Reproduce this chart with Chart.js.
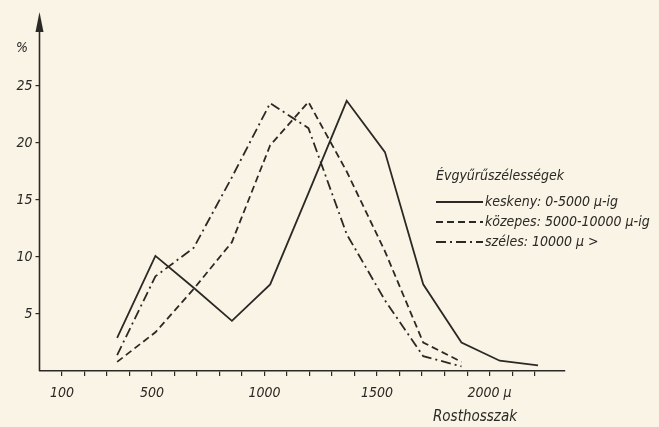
<!DOCTYPE html>
<html>
<head>
<meta charset="utf-8">
<script src="https://cdn.jsdelivr.net/npm/chart.js@4/dist/chart.umd.min.js"></script>
<style>
  html, body { margin: 0; padding: 0; background: #f9f4e5; }
  #wrap { width: 659px; height: 427px; }
</style>
</head>
<body>
<div id="wrap"><canvas id="chart"></canvas></div>
<script>
// Rosthossz osztályok (μ)
const lengths = [345, 515, 685, 855, 1025, 1195, 1365, 1535, 1705, 1875, 2045, 2215];

// gyakoriság %
const keskeny = [2.9, 10.1, 7.3, 4.4, 7.6, 15.6, 23.7, 19.2, 7.6, 2.5, 0.9, 0.5];
const kozepes = [0.8, 3.4, 7.2, 11.3, 19.8, 23.6, 17.5, 10.5, 2.5, 0.8, null, null];
const szeles  = [1.4, 8.3, 10.8, 17.0, 23.5, 21.3, 12.0, 6.2, 1.3, 0.4, null, null];

const seriesNames = ['keskeny: 0-5000 μ-ig', 'közepes: 5000-10000 μ-ig', 'széles: 10000 μ >'];
const legendTitle = 'Évgyűrűszélességek';
const xTitle = 'Rosthosszak';
const xLabeled = [100, 500, 1000, 1500, 2000];

const ink = '#2b2926';
const font = '"Liberation Sans Narrow", "DejaVu Sans Condensed", "DejaVu Sans", sans-serif';
const dashes = [[], [7, 4], [10, 4, 2, 4]];

function pts(arr) {
  return lengths.map((x, i) => ({ x: x, y: arr[i] })).filter(p => p.y !== null);
}

// tengely nyíl, %, tengelycím, jelmagyarázat
const decor = {
  id: 'decor',
  afterDraw(chart) {
    const c = chart.ctx;
    const xs = chart.scales.x, ys = chart.scales.y;
    const ax = xs.left;
    c.save();
    c.strokeStyle = ink;
    c.fillStyle = ink;
    // nyílhegy
    c.beginPath();
    c.moveTo(ax, 12);
    c.lineTo(ax - 4, 32);
    c.lineTo(ax + 4, 32);
    c.closePath();
    c.fill();
    c.lineWidth = 1.6;
    c.beginPath();
    c.moveTo(ax, ys.bottom);
    c.lineTo(ax, 20);
    c.stroke();

    c.font = 'italic 14px ' + font;
    c.textAlign = 'center';
    c.textBaseline = 'middle';
    c.fillText('%', 22, ys.getPixelForValue(28.3));

    c.font = 'italic 15px ' + font;
    c.fillText(xTitle, xs.getPixelForValue(1935), 417);

    // jelmagyarázat
    c.textAlign = 'left';
    c.font = 'italic 14px ' + font;
    c.fillText(legendTitle, 436, 176);
    const rows = [202, 222, 242];
    rows.forEach((y, i) => {
      c.setLineDash(dashes[i]);
      c.lineWidth = 1.8;
      c.beginPath();
      c.moveTo(436, y);
      c.lineTo(483, y);
      c.stroke();
      c.setLineDash([]);
      c.fillText(seriesNames[i], 485, y);
    });
    c.restore();
  }
};

const sets = [keskeny, kozepes, szeles].map((arr, i) => ({
  label: seriesNames[i],
  data: pts(arr),
  borderColor: ink,
  borderWidth: 1.8,
  borderDash: dashes[i],
  pointRadius: 0,
  tension: 0,
  fill: false
}));

new Chart(document.getElementById('chart'), {
  type: 'line',
  data: { datasets: sets },
  options: {
    responsive: true,
    maintainAspectRatio: false,
    animation: false,
    layout: { padding: { top: 17.6, right: 94, bottom: 0, left: 0 } },
    plugins: { legend: { display: false }, tooltip: { enabled: false } },
    scales: {
      x: {
        type: 'linear',
        min: 0,
        max: 2335,
        afterFit: s => { s.height = 56; },
        afterBuildTicks: s => {
          const t = [];
          for (let v = 100; v <= 2200; v += 100) t.push({ value: v });
          s.ticks = t;
        },
        border: { color: ink, width: 1.6 },
        grid: { drawOnChartArea: false, color: ink, tickLength: 5, lineWidth: 1.2 },
        ticks: {
          autoSkip: false,
          maxRotation: 0,
          padding: 9,
          color: ink,
          font: { family: font, style: 'italic', size: 14 },
          callback: v => xLabeled.includes(v) ? (v === 2000 ? '2000 μ' : String(v)) : ''
        }
      },
      y: {
        min: 0,
        max: 31,
        afterFit: s => { s.width = 39.5; },
        afterBuildTicks: s => { s.ticks = [5, 10, 15, 20, 25].map(v => ({ value: v })); },
        border: { display: false },
        grid: { drawOnChartArea: false, color: ink, tickLength: 4, lineWidth: 1.2 },
        ticks: {
          padding: 3,
          color: ink,
          font: { family: font, style: 'italic', size: 14 }
        }
      }
    }
  },
  plugins: [decor]
});
</script>
</body>
</html>
